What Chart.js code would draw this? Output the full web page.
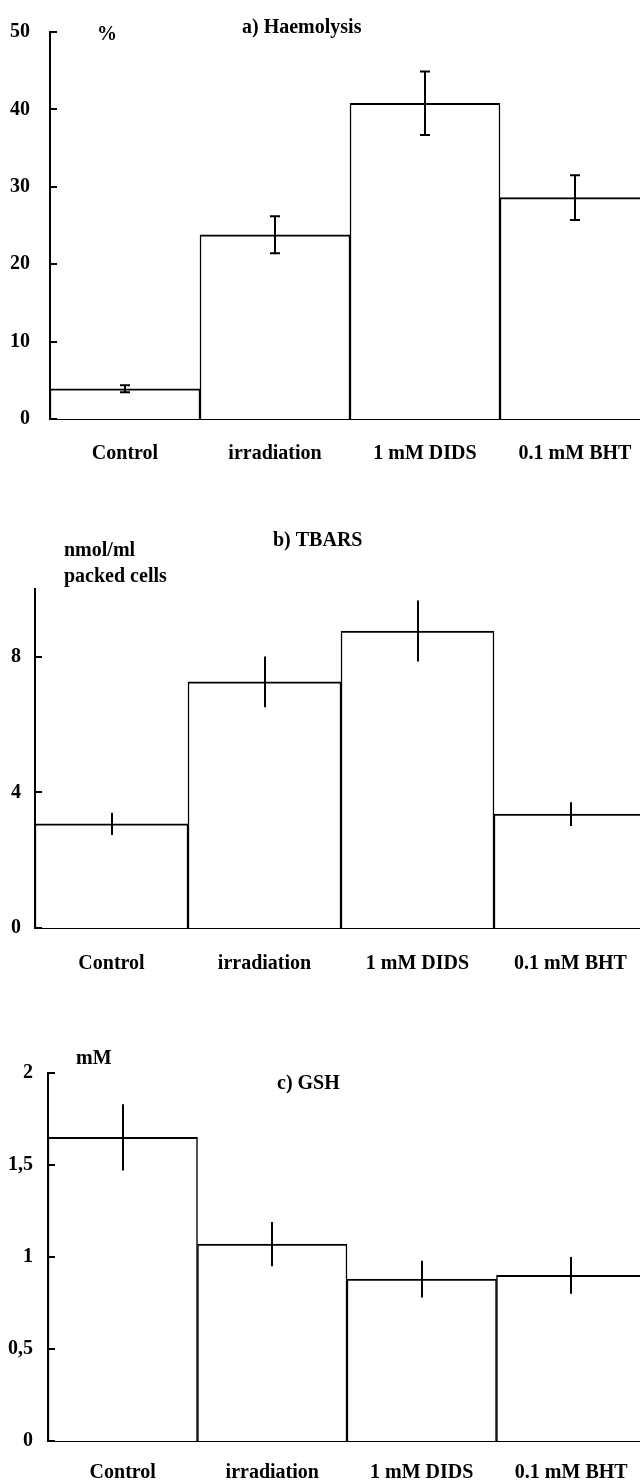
<!DOCTYPE html>
<html>
<head>
<meta charset="utf-8">
<script src="https://cdn.jsdelivr.net/npm/chart.js@4.4.1/dist/chart.umd.min.js"></script>
<style>
  html, body { margin: 0; padding: 0; background: #fff; width: 640px; height: 1480px; overflow: hidden; position: relative; }
  .panel { position: absolute; left: 0; width: 660px; height: 480px; }
</style>
</head>
<body>
<div class="panel" style="top:0px"><canvas id="ca" width="660" height="480"></canvas></div>
<div class="panel" style="top:500px"><canvas id="cb" width="660" height="480"></canvas></div>
<div class="panel" style="top:1000px"><canvas id="cc" width="660" height="480"></canvas></div>
<script>
// ---- data ----
const categories = ['Control', 'irradiation', '1 mM DIDS', '0.1 mM BHT'];

const haemolysis    = [3.9, 23.8, 40.8, 28.6];
const haemolysisErr = [0.45, 2.4, 4.1, 2.9];
const haemolysisTicks = [0, 10, 20, 30, 40, 50];
const haemolysisTickLabels = ['0', '10', '20', '30', '40', '50'];

const tbars    = [3.07, 7.26, 8.76, 3.36];
const tbarsErr = [0.33, 0.75, 0.9, 0.35];
const tbarsTicks = [0, 4, 8];
const tbarsTickLabels = ['0', '4', '8'];

const gsh    = [1.65, 1.07, 0.88, 0.90];
const gshErr = [0.18, 0.12, 0.10, 0.10];
const gshTicks = [0, 0.5, 1, 1.5, 2];
const gshTickLabels = ['0', '0,5', '1', '1,5', '2'];

const titleA = 'a) Haemolysis';
const unitA = ['%'];
const titleB = 'b) TBARS';
const unitB = ['nmol/ml', 'packed cells'];
const titleC = 'c) GSH';
const unitC = ['mM'];

// ---- styling ----
const FONT = 'bold 20px "Liberation Serif", "Times New Roman", serif';
Chart.defaults.font.family = '"Liberation Serif", "Times New Roman", serif';
Chart.defaults.font.size = 20;
Chart.defaults.font.weight = 'bold';
Chart.defaults.color = '#000';

const errorBarPlugin = {
  id: 'errorBars',
  afterDatasetsDraw(chart, args, opts) {
    const ctx = chart.ctx;
    const meta = chart.getDatasetMeta(0);
    const ys = chart.scales.y;
    const vals = chart.data.datasets[0].data;
    ctx.save();
    ctx.strokeStyle = '#000';
    ctx.lineWidth = 2;
    meta.data.forEach((bar, i) => {
      const x = Math.round(bar.x);
      const yt = ys.getPixelForValue(vals[i] + opts.errors[i]);
      const yb = ys.getPixelForValue(vals[i] - opts.errors[i]);
      ctx.beginPath();
      ctx.moveTo(x, yt); ctx.lineTo(x, yb);
      if (opts.cap) {
        ctx.moveTo(x - opts.cap, yt); ctx.lineTo(x + opts.cap, yt);
        ctx.moveTo(x - opts.cap, yb); ctx.lineTo(x + opts.cap, yb);
      }
      ctx.stroke();
    });
    ctx.restore();
  }
};

const innerTicksPlugin = {
  id: 'innerTicks',
  afterDraw(chart) {
    const ctx = chart.ctx;
    const ys = chart.scales.y;
    const left = chart.chartArea.left;
    ctx.save();
    ctx.strokeStyle = '#000';
    ctx.lineWidth = 2;
    ys.ticks.forEach(t => {
      const y = Math.round(ys.getPixelForValue(t.value));
      ctx.beginPath();
      ctx.moveTo(left, y); ctx.lineTo(left + 7, y);
      ctx.stroke();
    });
    ctx.restore();
  }
};

const textPlugin = {
  id: 'panelTexts',
  afterDraw(chart, args, opts) {
    const ctx = chart.ctx;
    ctx.save();
    ctx.font = FONT;
    ctx.fillStyle = '#000';
    ctx.textBaseline = 'middle';
    (opts.items || []).forEach(it => {
      ctx.textAlign = it.align || 'left';
      ctx.fillText(it.text, it.x, it.y);
    });
    ctx.restore();
  }
};

function makeChart(id, values, errors, ticks, tickLabels, maxV, cfg) {
  return new Chart(document.getElementById(id), {
    type: 'bar',
    data: {
      labels: categories,
      datasets: [{
        data: values,
        backgroundColor: '#fff',
        borderColor: '#000',
        borderWidth: { top: 2, left: 1.5, right: 1.5, bottom: 0 },
        borderSkipped: 'start',
        categoryPercentage: 1,
        barPercentage: 1
      }]
    },
    options: {
      responsive: false,
      animation: false,
      layout: { padding: { top: cfg.top, right: cfg.right, left: 0, bottom: 0 } },
      plugins: {
        legend: { display: false },
        tooltip: { enabled: false },
        title: { display: false },
        errorBars: { errors: errors, cap: cfg.cap },
        panelTexts: { items: cfg.texts }
      },
      scales: {
        x: {
          grid: { display: false, drawTicks: false },
          border: { display: true, color: '#000', width: 2 },
          ticks: { padding: cfg.xPad, maxRotation: 0, autoSkip: false, color: '#000' },
          afterFit(s) { s.height = cfg.xHeight; }
        },
        y: {
          min: 0, max: maxV,
          grid: { display: false, drawTicks: false },
          border: { display: true, color: '#000', width: 2 },
          afterBuildTicks(s) { s.ticks = ticks.map(v => ({ value: v })); },
          ticks: {
            padding: cfg.yPad,
            color: '#000',
            callback(v, i) { return tickLabels[ticks.indexOf(v)]; }
          },
          afterFit(s) { s.width = cfg.yWidth; }
        }
      }
    },
    plugins: [errorBarPlugin, innerTicksPlugin, textPlugin]
  });
}

makeChart('ca', haemolysis, haemolysisErr, haemolysisTicks, haemolysisTickLabels, 50, {
  top: 21, right: 10, xHeight: 61, yWidth: 50, xPad: 23, yPad: 20, cap: 5,
  texts: [
    { text: titleA, x: 242, y: 28 },
    { text: unitA[0], x: 97, y: 35 }
  ]
});

makeChart('cb', tbars, tbarsErr, tbarsTicks, tbarsTickLabels, 10, {
  top: 89, right: 13, xHeight: 52, yWidth: 35, xPad: 24, yPad: 14, cap: 0,
  texts: [
    { text: titleB, x: 273, y: 41 },
    { text: unitB[0], x: 64, y: 51 },
    { text: unitB[1], x: 64, y: 77 }
  ]
});

makeChart('cc', gsh, gshErr, gshTicks, gshTickLabels, 2, {
  top: 73, right: 14, xHeight: 39, yWidth: 48, xPad: 20, yPad: 15, cap: 0,
  texts: [
    { text: titleC, x: 277, y: 84 },
    { text: unitC[0], x: 76, y: 59 }
  ]
});
</script>
</body>
</html>
